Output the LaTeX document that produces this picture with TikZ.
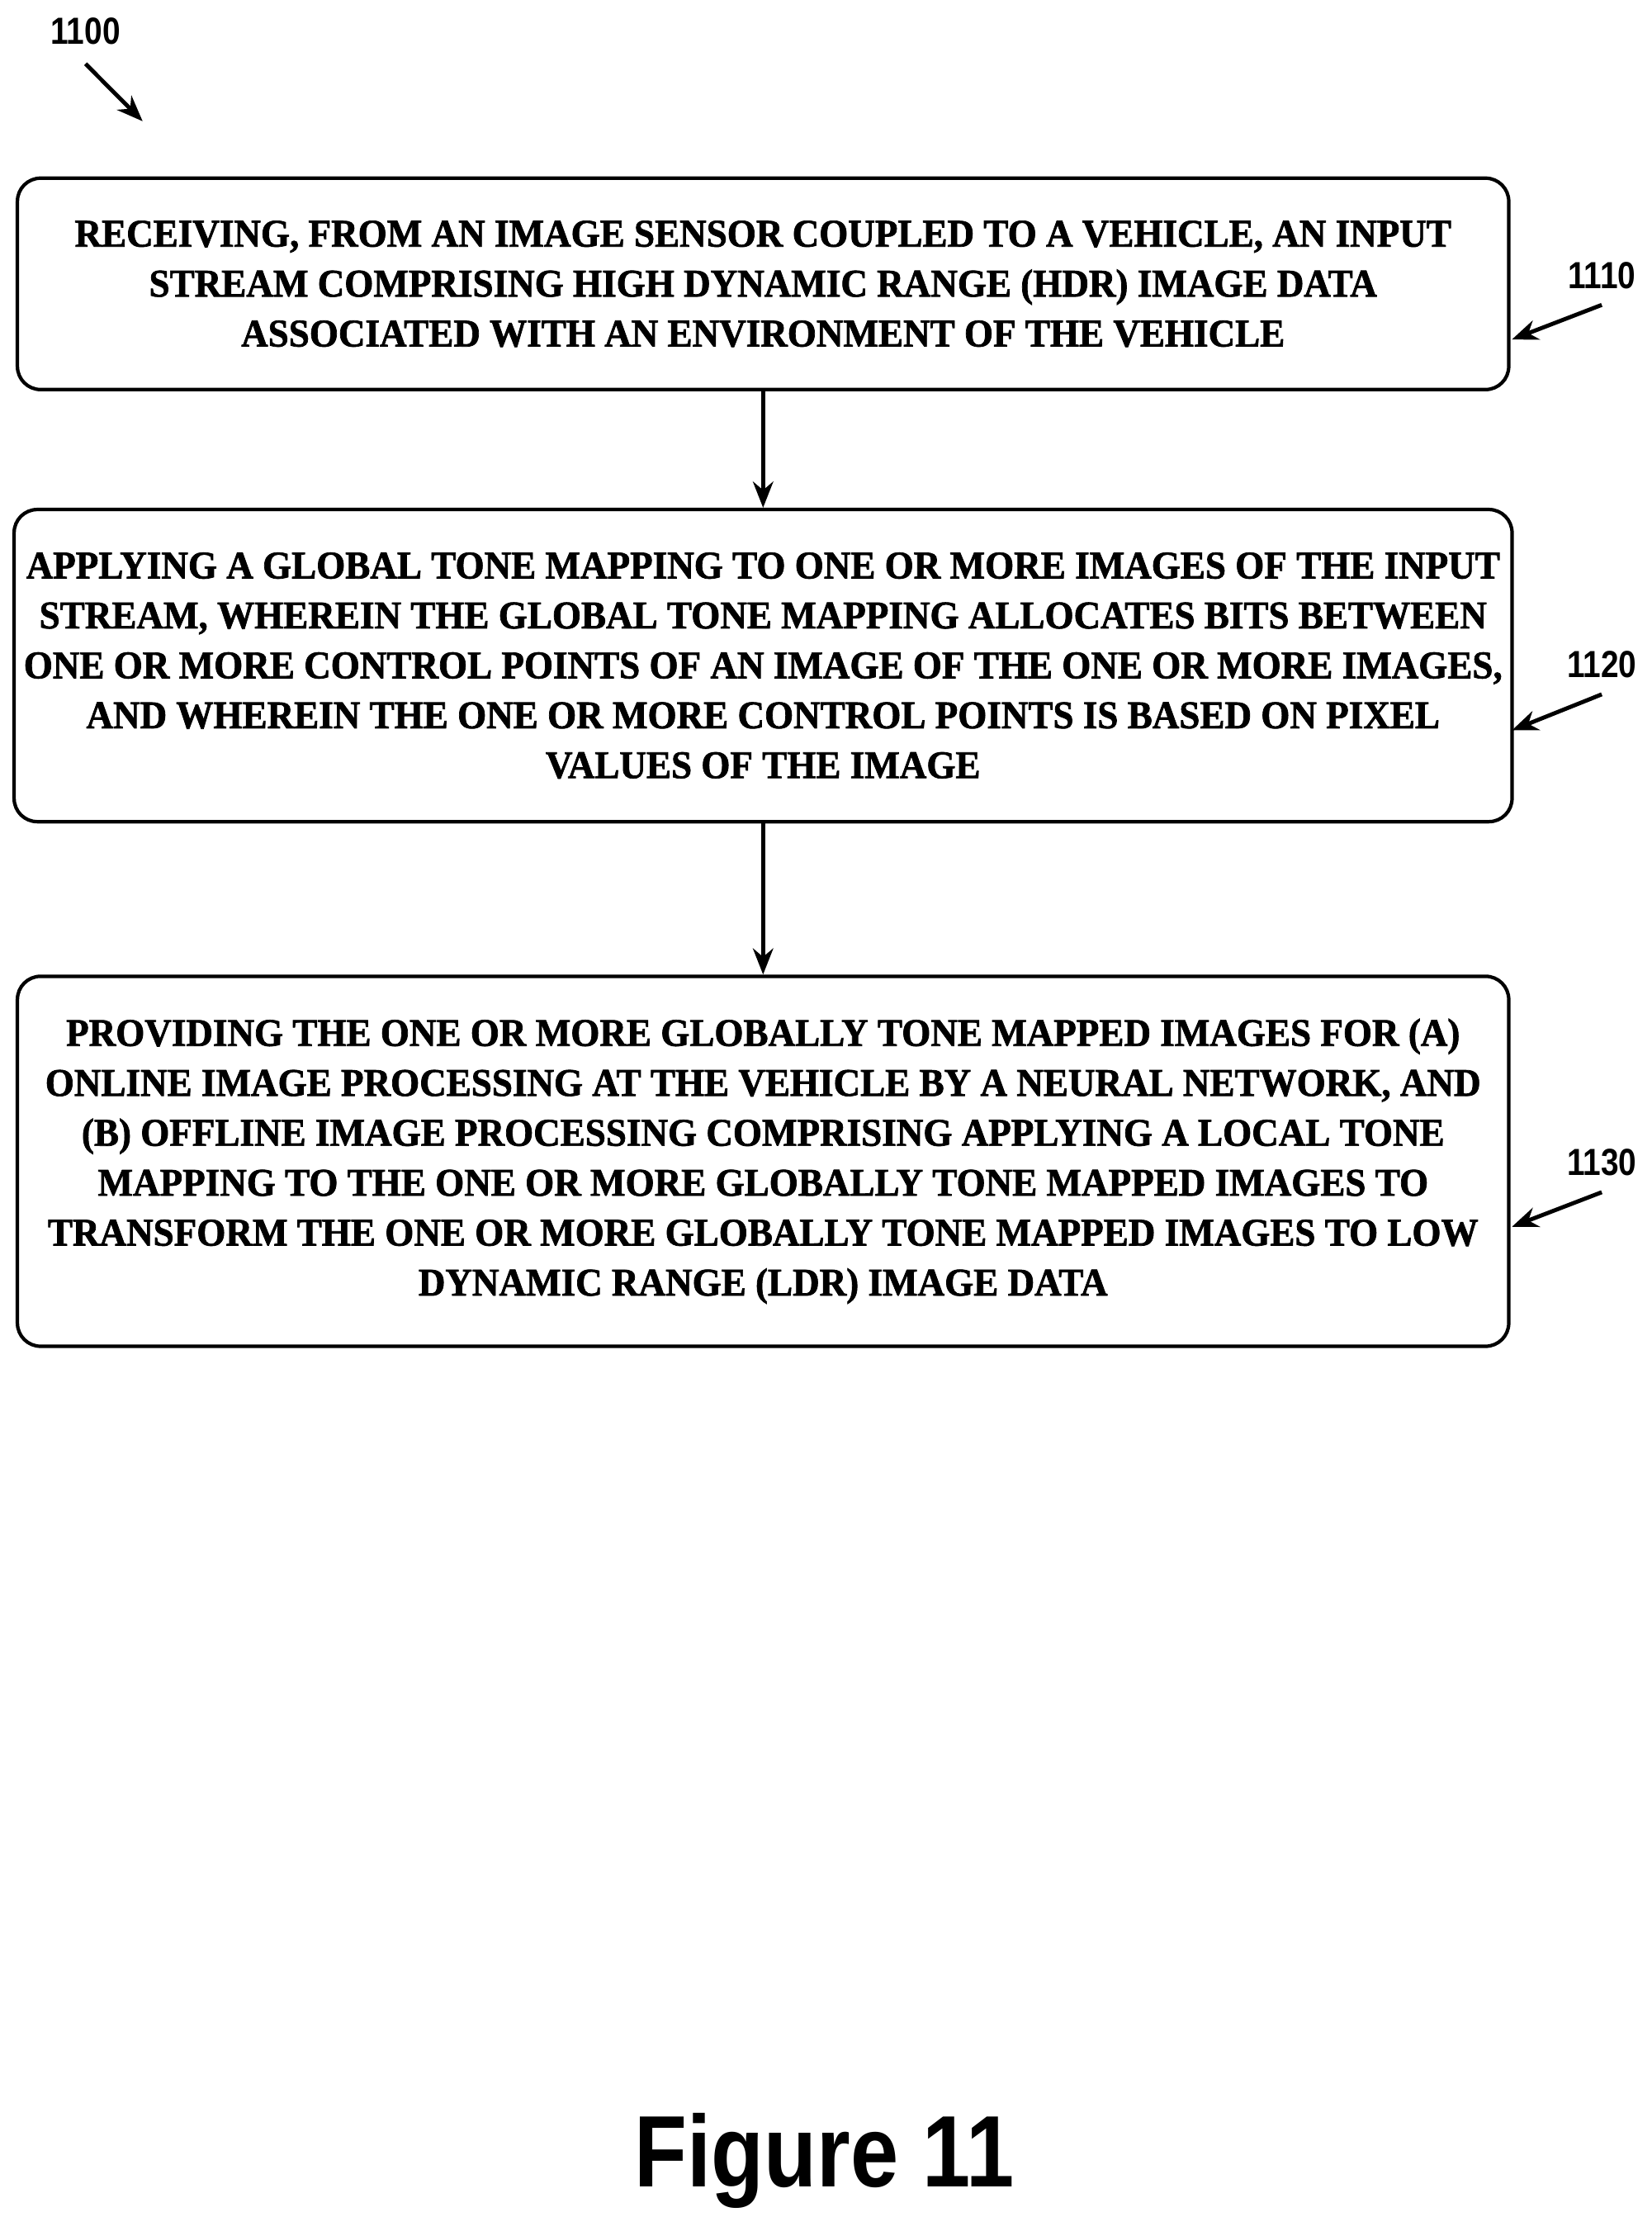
\documentclass[tikz,border=0pt]{standalone}
\usepackage{fontspec}
\setmainfont{Liberation Serif}
\newfontfamily\boxfont[FakeStretch=0.95,FakeBold=1.5]{Liberation Serif Bold}
\newfontfamily\labfont[FakeStretch=0.85]{Liberation Sans Bold}
\usetikzlibrary{positioning,arrows.meta}

\begin{document}
\begin{tikzpicture}[->, >={Stealth[length=9pt,width=7pt]}, semithick, x=0.01727cm, y=-0.01727cm, node distance=1.47cm]
    \tikzset{stepbox/.style={draw=black, line width=1.2pt, rounded corners=8pt, minimum width=18.06cm, align=center, font=\boxfont\fontsize{13.5}{17.2}\selectfont},
             reflabel/.style={font=\labfont\fontsize{13}{15}\selectfont},
             flowline/.style={line width=1.4pt}}
    \useasboundingbox (0,0) rectangle (1158,1564);

    % Define the steps
    \node[stepbox, minimum height=2.56cm] (1110) at (535,199) {RECEIVING, FROM AN IMAGE SENSOR COUPLED TO A VEHICLE, AN INPUT\\STREAM COMPRISING HIGH DYNAMIC RANGE (HDR) IMAGE DATA\\ASSOCIATED WITH AN ENVIRONMENT OF THE VEHICLE};
    \node[stepbox, minimum height=3.78cm] (1120) [below=1.41cm of 1110] {APPLYING A GLOBAL TONE MAPPING TO ONE OR MORE IMAGES OF THE INPUT\\STREAM, WHEREIN THE GLOBAL TONE MAPPING ALLOCATES BITS BETWEEN\\ONE OR MORE CONTROL POINTS OF AN IMAGE OF THE ONE OR MORE IMAGES,\\AND WHEREIN THE ONE OR MORE CONTROL POINTS IS BASED ON PIXEL\\VALUES OF THE IMAGE};
    \node[stepbox, minimum height=4.48cm] (1130) [below=1.83cm of 1120] {PROVIDING THE ONE OR MORE GLOBALLY TONE MAPPED IMAGES FOR (A)\\ONLINE IMAGE PROCESSING AT THE VEHICLE BY A NEURAL NETWORK, AND\\(B) OFFLINE IMAGE PROCESSING COMPRISING APPLYING A LOCAL TONE\\MAPPING TO THE ONE OR MORE GLOBALLY TONE MAPPED IMAGES TO\\TRANSFORM THE ONE OR MORE GLOBALLY TONE MAPPED IMAGES TO LOW\\DYNAMIC RANGE (LDR) IMAGE DATA};

    % Reference labels
    \node[reflabel] (l1100) at (60,22) {1100};
    \coordinate (t1100) at (100,85);
    \node[reflabel] (l1110) at (1123,193) {1110};
    \coordinate (t1110) at (1060,238);
    \node[reflabel] (l1120) at (1123,466) {1120};
    \coordinate (t1120) at (1060,512);
    \node[reflabel] (l1130) at (1123,815) {1130};
    \coordinate (t1130) at (1060,860);
    \node[font=\labfont\fontsize{35}{40}\selectfont] (fig) at (578,1515) {Figure 11};

    % Connect the steps
    \draw[flowline] (1110) -- (1120);
    \draw[flowline] (1120) -- (1130);
    \draw[flowline] (l1100.south) ++(0,6) -- (t1100);
    \draw[flowline] (l1110.south) ++(0,4) -- (t1110);
    \draw[flowline] (l1120.south) ++(0,4) -- (t1120);
    \draw[flowline] (l1130.south) ++(0,4) -- (t1130);
\end{tikzpicture}
\end{document}
